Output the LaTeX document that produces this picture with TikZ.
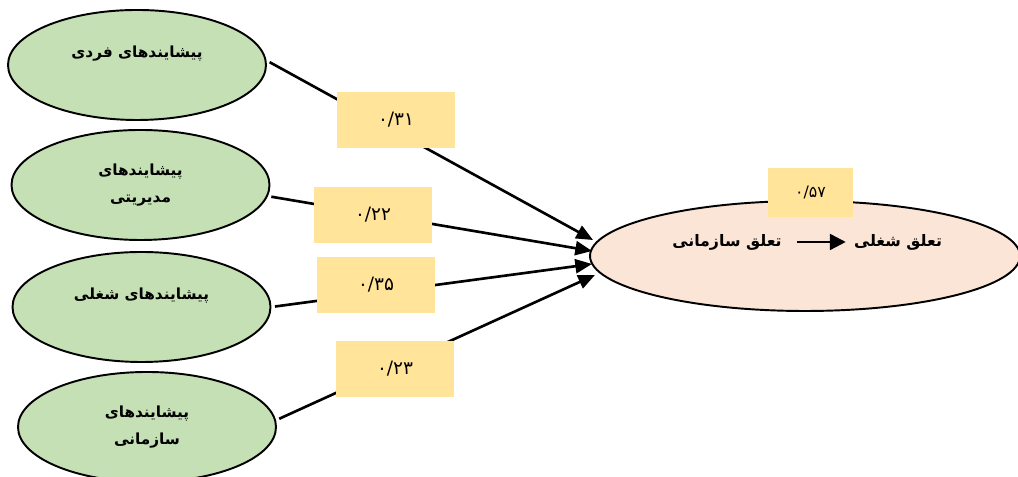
\documentclass[tikz,border=0pt]{standalone}
\usepackage{fontspec}
\usepackage{xcolor}
\usetikzlibrary{shapes.geometric,arrows.meta}
\TeXXeTstate=1
\newfontfamily\arabicfont[Script=Arabic]{DejaVu Sans}
\newcommand{\fa}[1]{\beginR #1\endR}
\definecolor{ovalgreen}{HTML}{C5E0B4}
\definecolor{ovalpeach}{HTML}{FBE5D6}
\definecolor{boxyellow}{HTML}{FFE499}
\tikzset{
  oval/.style={ellipse,draw,line width=1.1pt,fill=ovalgreen,minimum width=5.16cm,minimum height=2.2cm,
    inner sep=0pt,align=center,font=\arabicfont\bfseries\fontsize{8.7}{15.5}\selectfont},
  coef/.style={fill=boxyellow,minimum width=2.36cm,minimum height=1.12cm,inner sep=0pt,
    font=\arabicfont\fontsize{10.5}{12}\selectfont},
  link/.style={line width=1.5pt,shorten <=2pt,-{Triangle[length=9.5pt,width=8pt]}},
  title/.style={font=\arabicfont\bfseries\fontsize{9}{12}\selectfont,inner sep=4.5pt},
}
\begin{document}
\begin{tikzpicture}
    \useasboundingbox (0,0) rectangle (20.36,9.54);
    \node[oval] (fardi) at (2.74, 8.24) {\fa{پیشایندهای فردی}\\ {}};
    \node[oval] (modir) at (2.81, 5.84) {\fa{پیشایندهای}\\ \fa{مدیریتی}};
    \node[oval] (shogl) at (2.83, 3.40) {\fa{پیشایندهای شغلی}\\ {}};
    \node[oval] (sazman) at (2.94, 1.00) {\fa{پیشایندهای}\\ \fa{سازمانی}};
    \node[oval,fill=ovalpeach,minimum width=8.6cm] (taalloq) at (16.10, 4.42) {};
    \coordinate (in1) at (11.86, 4.74);
    \coordinate (in2) at (11.84, 4.52);
    \coordinate (in3) at (11.84, 4.26);
    \coordinate (in4) at (11.90, 4.04);
    \draw [link] (fardi.2) -- (in1);
    \draw [link] (modir.-5) -- (in2);
    \draw [link] (shogl.east) -- (in3);
    \draw [link] (sazman.3) -- (in4);
    \node[coef] (c1) at (7.92, 7.14) {۰/۳۱};
    \node[coef] (c2) at (7.46, 5.24) {۰/۲۲};
    \node[coef] (c3) at (7.52, 3.84) {۰/۳۵};
    \node[coef] (c4) at (7.90, 2.16) {۰/۲۳};
    \node[coef,minimum width=1.7cm,minimum height=0.98cm,font=\arabicfont\fontsize{9}{11}\selectfont] (c5) at (16.21, 5.69) {۰/۵۷};
    \node[title] (tsaz) at (14.54, 4.70) {\fa{تعلق سازمانی}};
    \node[title] (tsho) at (17.96, 4.70) {\fa{تعلق شغلی}};
    \draw [line width=1.4pt,shorten <=4pt,-{Triangle[length=9pt,width=9pt]}] (tsaz) -- (tsho);
\end{tikzpicture}
\end{document}
